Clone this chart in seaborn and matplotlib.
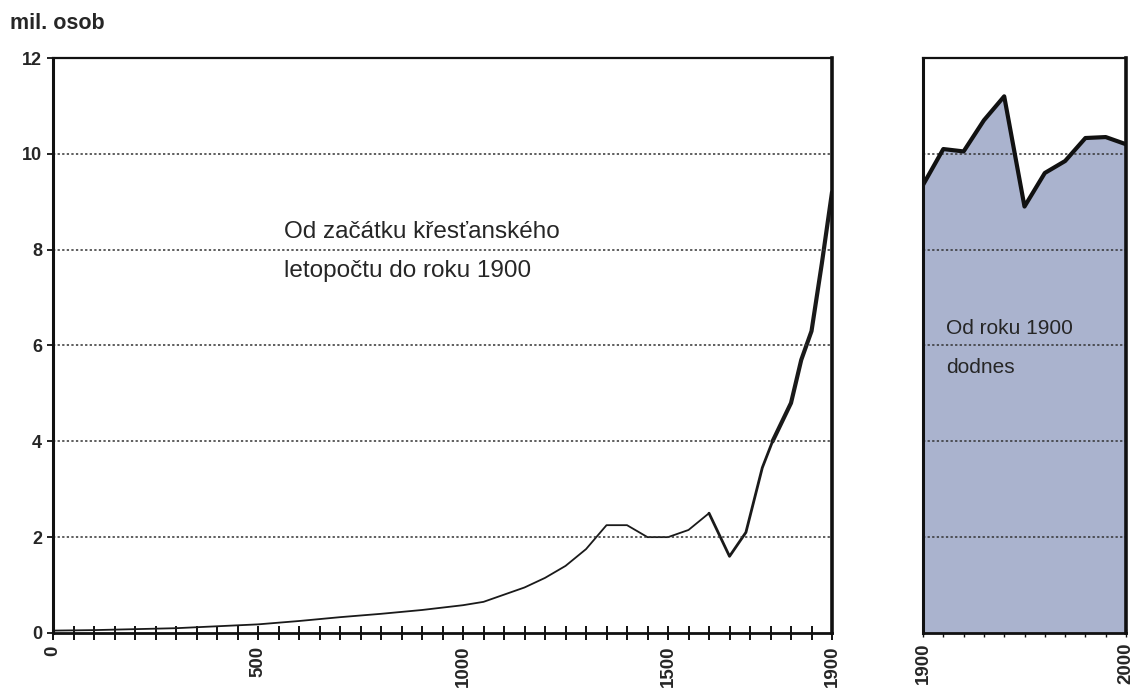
import matplotlib
matplotlib.use("Agg")
import matplotlib.pyplot as plt
import seaborn as sns
import pandas as pd
from matplotlib.ticker import MultipleLocator

# ---- data ----
years_old = [0, 100, 200, 300, 400, 500, 600, 700, 800, 900, 1000, 1050, 1100, 1150,
             1200, 1250, 1300, 1350, 1400, 1450, 1500, 1550, 1600, 1650, 1690, 1730,
             1755, 1800, 1825, 1850, 1875, 1900]
pop_old = [0.05, 0.06, 0.08, 0.10, 0.14, 0.18, 0.25, 0.33, 0.40, 0.48, 0.58, 0.65, 0.80, 0.95,
           1.15, 1.40, 1.75, 2.25, 2.25, 2.00, 2.00, 2.15, 2.50, 1.60, 2.10, 3.45,
           4.00, 4.80, 5.70, 6.30, 7.70, 9.20]
years_new = [1900, 1910, 1920, 1930, 1940, 1950, 1960, 1970, 1980, 1990, 2000]
pop_new = [9.35, 10.1, 10.05, 10.7, 11.2, 8.9, 9.6, 9.85, 10.33, 10.35, 10.2]
y_ticks = [0, 2, 4, 6, 8, 10, 12]
x_ticks_old = [0, 500, 1000, 1500, 1900]
x_ticks_new = [1900, 2000]

sns.set_style("white")
plt.rcParams['font.family'] = ['Liberation Sans', 'DejaVu Sans']

fig = plt.figure(figsize=(11.36, 6.93), dpi=100)
ax1 = fig.add_axes([0.0467, 0.0866, 0.6857, 0.8297])
ax2 = fig.add_axes([0.8125, 0.0866, 0.1787, 0.8297])

df_old = pd.DataFrame({"rok": years_old, "pop": pop_old})
# draw with increasing thickness
segs = [(0, 1600, 1.3), (1600, 1755, 2.0), (1755, 1900, 3.0)]
for a, b, lw in segs:
    d = df_old[(df_old.rok >= a) & (df_old.rok <= b)]
    sns.lineplot(data=d, x="rok", y="pop", ax=ax1, color="#1a1a1a", lw=lw, sort=True)

df_new = pd.DataFrame({"rok": years_new, "pop": pop_new})
ax2.fill_between(df_new.rok, 0, df_new["pop"], color="#aab3ce", zorder=1)
sns.lineplot(data=df_new, x="rok", y="pop", ax=ax2, color="#111111", lw=3, zorder=3)

for ax in (ax1, ax2):
    ax.set_ylim(0, 12)
    ax.set_xlabel("")
    ax.set_ylabel("")
    for g in [2, 4, 6, 8, 10]:
        ax.axhline(g, color="#333333", lw=1.1, ls=(0, (1.5, 1.5)), zorder=2)
    ax.spines['top'].set_linewidth(1.6)
    ax.spines['left'].set_linewidth(2.2)
    ax.spines['right'].set_linewidth(2.6)
    ax.spines['bottom'].set_linewidth(2.0)
    for s in ax.spines.values():
        s.set_color("#111111")
        s.set_visible(True)

ax1.set_xlim(0, 1900)
ax1.set_xticks(x_ticks_old)
ax1.set_xticklabels([str(t) for t in x_ticks_old], rotation=90, fontsize=13.5, fontweight='bold')
ax1.xaxis.set_minor_locator(MultipleLocator(50))
ax1.tick_params(axis='x', which='both', bottom=True, direction='inout', length=10,
                width=1.4, color="#111111", pad=4)
ax1.set_yticks(y_ticks)
ax1.set_yticklabels([str(t) for t in y_ticks], fontsize=13, fontweight='bold')
ax1.tick_params(axis='y', which='major', left=True, direction='out', length=4,
                width=1.3, color="#111111", pad=4)

ax2.set_xlim(1900, 2000)
ax2.set_xticks(x_ticks_new)
ax2.set_xticklabels([str(t) for t in x_ticks_new], rotation=90, fontsize=13.5, fontweight='bold')
ax2.xaxis.set_minor_locator(MultipleLocator(10))
ax2.tick_params(axis='x', which='both', bottom=True, direction='inout', length=6,
                width=1.0, color="#111111", pad=4)
ax2.set_yticks([])

fig.text(0.009, 0.966, "mil. osob", fontsize=15.5, fontweight='bold', ha='left', va='center')
ax1.text(0.296, 0.663, "Od začátku křesťanského\nletopočtu do roku 1900", transform=ax1.transAxes,
         fontsize=17.5, ha='left', va='center', linespacing=2.0)
ax2.text(0.115, 0.496, "Od roku 1900\ndodnes", transform=ax2.transAxes,
         fontsize=15, ha='left', va='center', linespacing=2.3, zorder=5)

fig.savefig("out.png", dpi=100)
